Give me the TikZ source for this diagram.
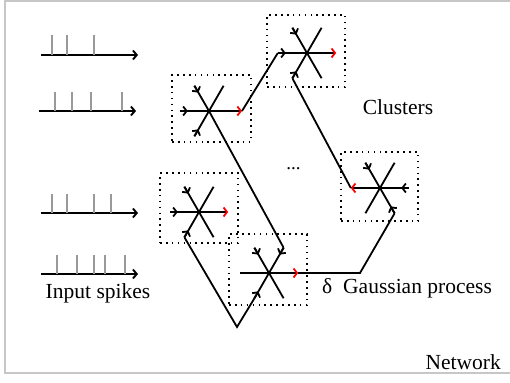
\documentclass[tikz,border=0pt]{standalone}
\usepackage{fontspec}
\setmainfont{Liberation Serif}
\usetikzlibrary{arrows.meta,calc}
\newcommand\inray[2]{%
  \draw[wire] (#1) -- (#2.center);
  \draw[wire,barb] (#1) -- ($(#1)!8pt!(#2.center)$);}
\begin{document}
\begin{tikzpicture}[x=1pt,y=-1pt,
  wire/.style={line width=1.8pt, black},
  barb/.style={-{Straight Barb[length=3.5pt,width=9pt]}},
  outtip/.style={-{Straight Barb[length=3.5pt,width=9pt,color=red]}},
  train/.style={line width=1.9pt, black, -{Straight Barb[length=3.8pt,width=9pt]}},
  spike/.style={line width=1.8pt, gray!80},
  hub/.style={circle, minimum size=58pt, inner sep=0pt, draw=none},
  dotbox/.style={draw, line width=1.8pt, dash pattern=on 1.6pt off 4.3pt, inner sep=0pt},
  lbl/.style={font=\fontsize{21.5}{24}\selectfont, inner sep=0pt}
]
\useasboundingbox (0,0) rectangle (510,382);
% frame
\draw[black!22, line width=1.6pt] (5,1) rectangle (516,373);

% input spike trains
\draw[train] (41,55) -- (138,55);
\foreach \x in {52,67,94} \draw[spike] (\x,55) -- (\x,35);
\draw[train] (39,111) -- (136,111);
\foreach \x in {55,72,91,122} \draw[spike] (\x,111) -- (\x,92);
\draw[train] (41,213) -- (138,213);
\foreach \x in {52,67,94,111} \draw[spike] (\x,213) -- (\x,194);
\draw[train] (41,274) -- (138,274);
\foreach \x in {57,77,94,105,125} \draw[spike] (\x,274) -- (\x,255);

% dotted cluster boxes
\node[dotbox, minimum width=79pt, minimum height=67pt] (Abox) at (211.5,108.5) {};
\node[dotbox, minimum width=78pt, minimum height=72pt] (Bbox) at (306,51) {};
\node[dotbox, minimum width=77pt, minimum height=69pt] (Cbox) at (379.5,186.5) {};
\node[dotbox, minimum width=78pt, minimum height=71pt] (Dbox) at (268,269.5) {};
\node[dotbox, minimum width=78pt, minimum height=70pt] (Ebox) at (199,208) {};

% cluster hubs
\node[hub] (A) at (209,111) {};
\node[hub] (B) at (307,53) {};
\node[hub] (C) at (380,188) {};
\node[hub] (D) at (269,273) {};
\node[hub] (E) at (199,212) {};
\coordinate (Aout) at (242,111);
\coordinate (Dbend) at (360,273);
\coordinate (Vb) at (237,327);

% cluster A
\inray{A.180}{A}
\inray{A.120}{A}
\inray{A.240}{A}
\draw[wire] (A.center) -- (A.60);
\draw[wire,outtip] (A.center) -- (Aout);
% cluster B
\inray{B.180}{B}
\inray{B.120}{B}
\inray{B.240}{B}
\draw[wire] (B.center) -- (B.60);
\draw[wire] (B.center) -- (B.300);
\draw[wire,outtip] (B.center) -- (B.0);
% cluster C
\inray{C.0}{C}
\inray{C.120}{C}
\inray{C.300}{C}
\draw[wire] (C.center) -- (C.60);
\draw[wire] (C.center) -- (C.240);
\draw[wire,outtip] (C.center) -- (C.180);
% cluster D
\draw[wire] (D.center) -- (D.180);
\inray{D.120}{D}
\inray{D.60}{D}
\inray{D.240}{D}
\draw[wire] (D.center) -- (D.300);
\draw[wire,outtip] (D.center) -- (D.0);
% cluster E
\inray{E.180}{E}
\inray{E.120}{E}
\inray{E.240}{E}
\draw[wire] (E.center) -- (E.60);
\draw[wire] (E.center) -- (E.300);
\draw[wire,outtip] (E.center) -- (E.0);

% connectors between clusters
\draw[wire] (Aout) -- (B.180);
\draw[wire] (C.180) -- (B.240);
\draw[wire] (D.0) -- (Dbend) -- (C.300);
\draw[wire] (A.center) -- (D.60);
\draw[wire] (D.240) -- (Vb) -- (E.240);

% labels
\node[lbl, anchor=base] (inlbl) at (98,298) {Input spikes};
\node[lbl, anchor=base] (cllbl) at (398,115) {Clusters};
\node[lbl, anchor=base west] (delta) at (322,293) {δ};
\node[lbl, anchor=base west] (gplbl) at (343,293) {Gaussian process};
\node[lbl, anchor=base east] (netlbl) at (501,369) {Network};
\node[font=\fontsize{19}{21}\selectfont, inner sep=0pt, anchor=base] (dots) at (293.5,169) {...};
\end{tikzpicture}
\end{document}
